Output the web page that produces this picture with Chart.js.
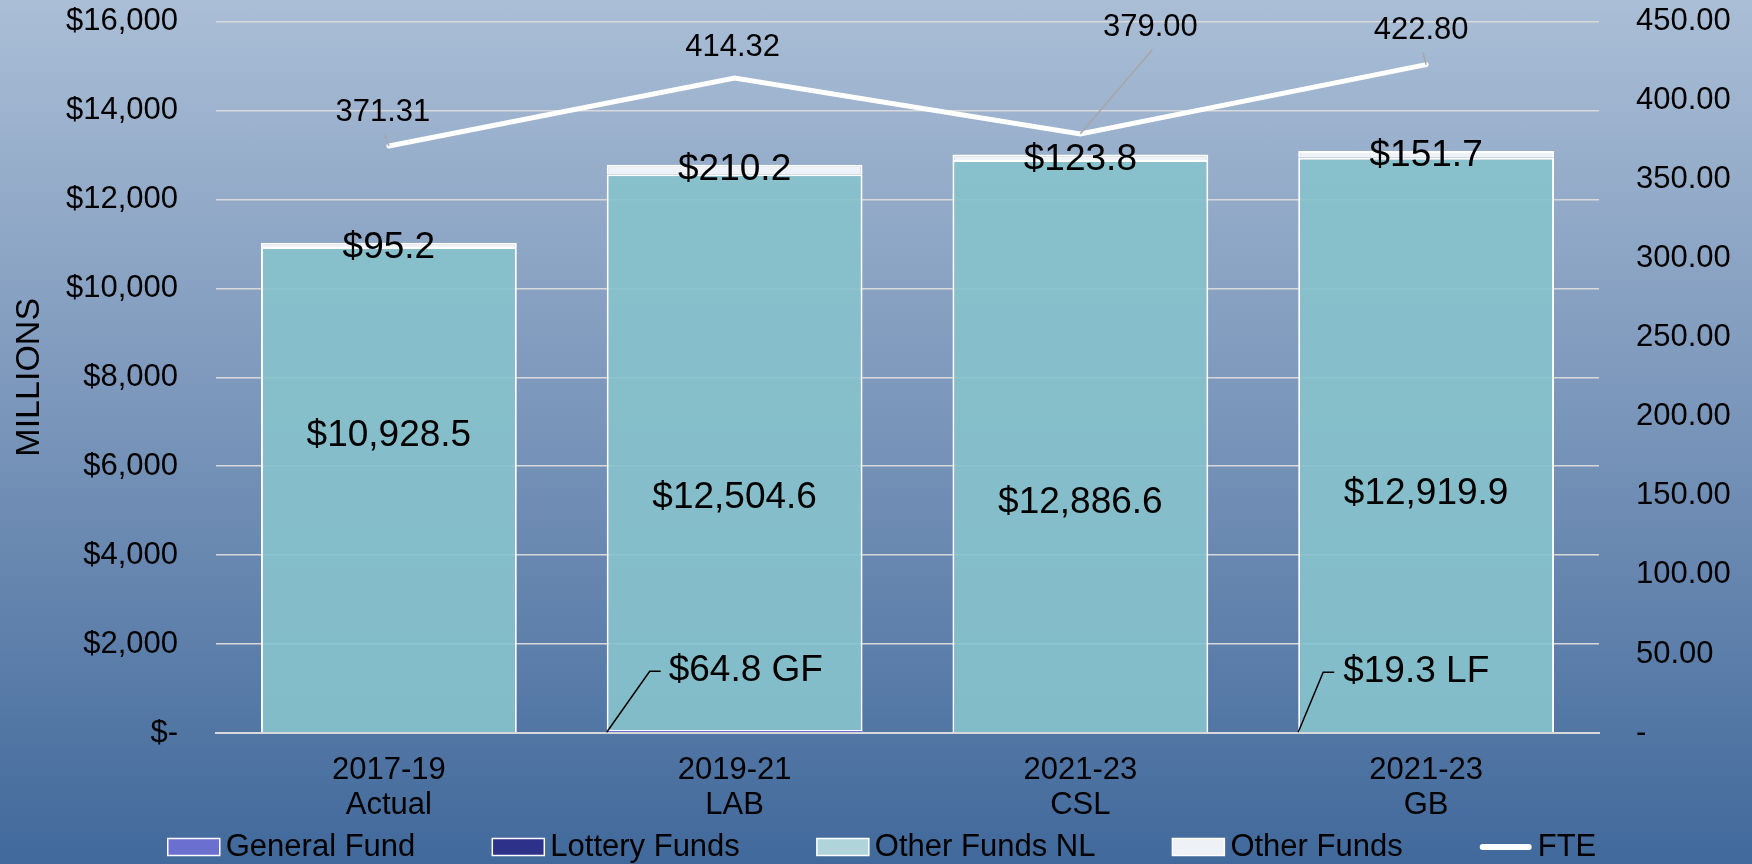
<!DOCTYPE html>
<html>
<head>
<meta charset="utf-8">
<script src="https://cdn.jsdelivr.net/npm/chart.js@4.4.1/dist/chart.umd.min.js"></script>
<style>
  html, body { margin: 0; padding: 0; }
  body {
    width: 1752px; height: 864px; overflow: hidden;
    background: linear-gradient(to bottom, #aabed6 0%, #7894b9 50%, #41699b 100%);
  }
  canvas { display: block; }
</style>
</head>
<body>
<canvas id="fundsChart" width="1752" height="864"></canvas>
<script>
// values (millions of $ and FTE)
var periods = [["2017-19", "Actual"], ["2019-21", "LAB"], ["2021-23", "CSL"], ["2021-23", "GB"]];
var generalFund = [0, 64.8, 0, 0];
var lotteryFunds = [0, 0, 0, 19.3];
var otherFundsNL = [10928.5, 12504.6, 12886.6, 12919.9];
var otherFunds = [95.2, 210.2, 123.8, 151.7];
var fte = [371.31, 414.32, 379.00, 422.80];

// label nudges, as placed by hand in the original
var nlLabelShift = [-54, 46, 57, 49];
var fteLabelShift = [[-6, -34], [-2, -31], [70, -106], [-5, -34]];
var fteLeader = [true, false, true, true];

var FONT = '"Liberation Sans", Arial, sans-serif';
Chart.defaults.font.family = FONT;
Chart.defaults.color = "#000";

var legendItems = [
  { text: "General Fund", fill: "#6b6fcf" },
  { text: "Lottery Funds", fill: "#2e3189" },
  { text: "Other Funds NL", fill: "#afd5db" },
  { text: "Other Funds", fill: "#eef1f5" },
  { text: "FTE", line: true }
];

function money(v) {
  return "$" + v.toLocaleString("en-US", { minimumFractionDigits: 1, maximumFractionDigits: 1 });
}

var labelPlugin = {
  id: "valueLabels",
  afterDatasetsDraw: function (chart) {
    var ctx = chart.ctx;
    ctx.save();
    ctx.fillStyle = "#000";
    ctx.textAlign = "center";
    ctx.textBaseline = "middle";
    ctx.font = "37px " + FONT;

    chart.getDatasetMeta(2).data.forEach(function (bar, i) {
      ctx.fillText(money(otherFundsNL[i]), bar.x, (bar.y + bar.base) / 2 + nlLabelShift[i]);
    });
    chart.getDatasetMeta(3).data.forEach(function (bar, i) {
      ctx.fillText(money(otherFunds[i]), bar.x, bar.y + 5);
    });

    // callouts for the thin GF / LF slices
    var callouts = [
      { meta: 0, i: 1, text: money(generalFund[1]) + " GF", kx: 43, ky: 61, tx: 62 },
      { meta: 1, i: 3, text: money(lotteryFunds[3]) + " LF", kx: 25, ky: 60, tx: 45 }
    ];
    ctx.textAlign = "left";
    ctx.strokeStyle = "#000";
    ctx.lineWidth = 1.5;
    callouts.forEach(function (c) {
      var bar = chart.getDatasetMeta(c.meta).data[c.i];
      var left = bar.x - bar.width / 2;
      var base = bar.base;
      ctx.beginPath();
      ctx.moveTo(left, base);
      ctx.lineTo(left + c.kx, base - c.ky);
      ctx.lineTo(left + c.kx + 11, base - c.ky);
      ctx.stroke();
      ctx.fillText(c.text, left + c.tx, base - c.ky);
    });

    // FTE labels
    ctx.textAlign = "center";
    ctx.font = "31px " + FONT;
    ctx.strokeStyle = "#a6a6a6";
    ctx.lineWidth = 1.5;
    chart.getDatasetMeta(4).data.forEach(function (pt, i) {
      var lx = pt.x + fteLabelShift[i][0];
      var ly = pt.y + fteLabelShift[i][1];
      if (fteLeader[i]) {
        ctx.beginPath();
        ctx.moveTo(pt.x, pt.y);
        ctx.lineTo(lx + 2, ly + 22);
        ctx.stroke();
      }
      ctx.fillText(fte[i].toFixed(2), lx, ly);
    });
    ctx.restore();
  },
  afterDraw: function (chart) {
    // legend row along the bottom edge
    var ctx = chart.ctx;
    ctx.save();
    ctx.font = "31px " + FONT;
    ctx.textBaseline = "middle";
    ctx.textAlign = "left";
    var boxW = 52, boxH = 17, gap = 6, spacing = 77, cy = 847;
    var total = 0;
    legendItems.forEach(function (it, i) {
      it.w = boxW + gap + ctx.measureText(it.text).width;
      total += it.w + (i ? spacing : 0);
    });
    var x = 882 - total / 2;
    legendItems.forEach(function (it) {
      if (it.line) {
        ctx.strokeStyle = "#ffffff";
        ctx.lineWidth = 6;
        ctx.lineCap = "round";
        ctx.beginPath();
        ctx.moveTo(x + 3, cy);
        ctx.lineTo(x + boxW - 3, cy);
        ctx.stroke();
      } else {
        ctx.fillStyle = it.fill;
        ctx.fillRect(x, cy - boxH / 2, boxW, boxH);
        ctx.strokeStyle = "#ffffff";
        ctx.lineWidth = 1.5;
        ctx.strokeRect(x, cy - boxH / 2, boxW, boxH);
      }
      ctx.fillStyle = "#000";
      ctx.fillText(it.text, x + boxW + gap, cy);
      x += it.w + spacing;
    });
    ctx.restore();
  }
};

var ctx = document.getElementById("fundsChart").getContext("2d");
var fundsChart = new Chart(ctx, {
  type: "bar",
  data: {
    labels: periods,
    datasets: [
      {
        label: "General Fund",
        data: generalFund,
        backgroundColor: "#6b6fcf",
        borderColor: "#ffffff",
        borderWidth: 1,
        order: 1
      },
      {
        label: "Lottery Funds",
        data: lotteryFunds,
        backgroundColor: "#2e3189",
        borderColor: "#ffffff",
        borderWidth: 1,
        order: 1
      },
      {
        label: "Other Funds NL",
        data: otherFundsNL,
        backgroundColor: "rgba(134,194,203,0.93)",
        borderColor: "#ffffff",
        borderWidth: 2,
        order: 1
      },
      {
        label: "Other Funds",
        data: otherFunds,
        backgroundColor: "#eff2f7",
        borderColor: "#ffffff",
        borderWidth: 2,
        order: 1
      },
      {
        type: "line",
        label: "FTE",
        data: fte,
        yAxisID: "y1",
        borderColor: "#ffffff",
        borderWidth: 5,
        borderCapStyle: "round",
        pointRadius: 0,
        tension: 0,
        order: 0
      }
    ]
  },
  options: {
    responsive: false,
    animation: false,
    layout: { padding: 0 },
    datasets: {
      bar: { barPercentage: 0.74, categoryPercentage: 1.0 }
    },
    plugins: {
      tooltip: { enabled: false },
      legend: { display: false }
    },
    scales: {
      x: {
        stacked: true,
        grid: { display: false, drawTicks: false },
        border: { display: true, color: "#d9d9d9", width: 2 },
        ticks: {
          color: "#000",
          font: { size: 31, lineHeight: 1.16 },
          padding: 19,
          maxRotation: 0,
          autoSkip: false
        },
        afterFit: function (s) { s.height = 131; }
      },
      y: {
        stacked: true,
        min: 0,
        max: 16000,
        grid: { color: "#d9d9d9", lineWidth: 1.5, drawTicks: true, tickLength: 35, tickColor: "rgba(0,0,0,0)" },
        border: { display: false },
        ticks: {
          stepSize: 2000,
          color: "#000",
          font: { size: 31 },
          padding: 3,
          callback: function (v) { return v === 0 ? "$-" : "$" + v.toLocaleString("en-US"); }
        },
        title: {
          display: true,
          text: "MILLIONS",
          color: "#000",
          font: { size: 34 },
          padding: { top: 9, bottom: 0 }
        },
        afterFit: function (s) { s.width = 216; }
      },
      y1: {
        position: "right",
        min: 0,
        max: 450,
        grid: { display: true, drawOnChartArea: false, drawTicks: true, tickLength: 34, tickColor: "rgba(0,0,0,0)" },
        border: { display: false },
        ticks: {
          stepSize: 50,
          color: "#000",
          font: { size: 31 },
          padding: 3,
          callback: function (v) { return v === 0 ? "-" : v.toFixed(2); }
        },
        afterFit: function (s) { s.width = 153; }
      }
    }
  },
  plugins: [labelPlugin]
});
</script>
</body>
</html>
